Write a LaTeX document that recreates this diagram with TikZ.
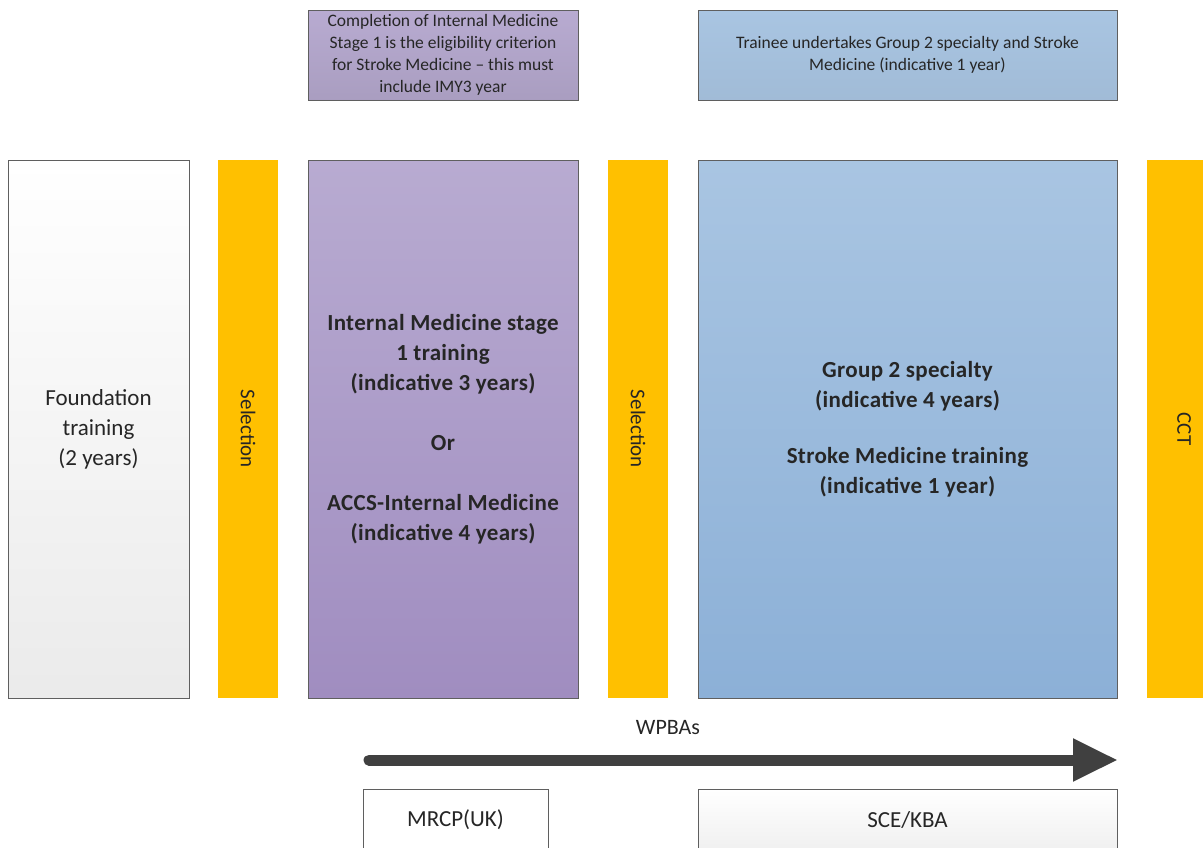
\documentclass[tikz,border=0pt]{standalone}
\usepackage{fontspec}
\setmainfont{Carlito}
\usetikzlibrary{arrows.meta}

\definecolor{edgegray}{HTML}{5F5F5F}
\definecolor{selorange}{HTML}{FFC000}
\definecolor{imtop}{HTML}{B8ABD1}
\definecolor{imbot}{HTML}{A08DC0}
\definecolor{spectop}{HTML}{A9C5E2}
\definecolor{specbot}{HTML}{8CB0D7}
\definecolor{arrowgray}{HTML}{404040}
\definecolor{txt}{HTML}{262626}

\tikzset{
  stagebox/.style={draw=edgegray, line width=0.9pt, inner sep=0pt,
    minimum height=538pt, text=txt, align=center},
  selbar/.style={fill=selorange, inner sep=0pt, minimum width=60pt,
    minimum height=538pt},
  seltext/.style={rotate=-90, text=txt, font=\fontsize{21}{25}\selectfont},
  notebox/.style={draw=edgegray, line width=0.9pt, inner sep=0pt,
    minimum height=90pt, text=txt, align=center,
    font=\fontsize{17.5}{22}\selectfont},
  boldtext/.style={font=\fontsize{23}{30}\selectfont\bfseries\addfontfeatures{LetterSpace=1.5}},
  exambox/.style={draw=edgegray, line width=0.9pt, inner sep=0pt,
    minimum height=62pt, text=txt, font=\fontsize{23}{27}\selectfont}
}

\begin{document}
\begin{tikzpicture}[x=1pt,y=1pt]
\useasboundingbox (0,0) rectangle (1203,-847);

% top notes
\node[notebox, minimum width=270pt, top color=imtop, bottom color=imtop!92!black]
  (imnote) at (443,-55) {Completion of Internal Medicine\\Stage 1 is the eligibility criterion\\for Stroke Medicine -- this must\\include IMY3 year};
\node[notebox, minimum width=419pt, top color=spectop, bottom color=spectop!95!black]
  (specnote) at (907.5,-55) {Trainee undertakes Group 2 specialty and Stroke\\Medicine (indicative 1 year)};

% stages
\node[stagebox, minimum width=181pt, top color=white, bottom color=black!8,
  font=\fontsize{23}{30}\selectfont]
  (found) at (98.5,-429) {Foundation\\training\\(2 years)};

\node[selbar] (sel1) at (248,-429) {};
\node[seltext] (sel1text) at (sel1.center) {Selection};

\node[stagebox, boldtext, minimum width=270pt, top color=imtop, bottom color=imbot]
  (im) at (443,-429)
  {Internal Medicine stage\\1 training\\(indicative 3 years)\\[30pt]Or\\[30pt]ACCS-Internal Medicine\\(indicative 4 years)};

\node[selbar] (sel2) at (638,-429) {};
\node[seltext] (sel2text) at (sel2.center) {Selection};

\node[stagebox, boldtext, minimum width=419pt, top color=spectop, bottom color=specbot]
  (spec) at (907.5,-429)
  {Group 2 specialty\\(indicative 4 years)\\[26pt]Stroke Medicine training\\(indicative 1 year)};

\node[selbar] (cct) at (1177,-429) {};
\node[seltext] (ccttext) at (1184,-429) {CCT};

% WPBAs arrow
\coordinate (wstart) at (369,-760);
\coordinate (wend) at (1118,-760);
\draw[arrowgray, line width=11pt, line cap=round,
  -{Triangle[length=45pt,width=40pt]}] (wstart) -- (wend);
\node[text=txt, font=\fontsize{22}{26}\selectfont] (wpba) at (668,-728) {WPBAs};

% exams
\node[exambox, minimum width=185pt, fill=white] (mrcp) at (455.5,-820) {MRCP(UK)};
\node[exambox, minimum width=419pt, top color=white, bottom color=black!6]
  (sce) at (907.5,-820) {SCE/KBA};
\end{tikzpicture}
\end{document}
